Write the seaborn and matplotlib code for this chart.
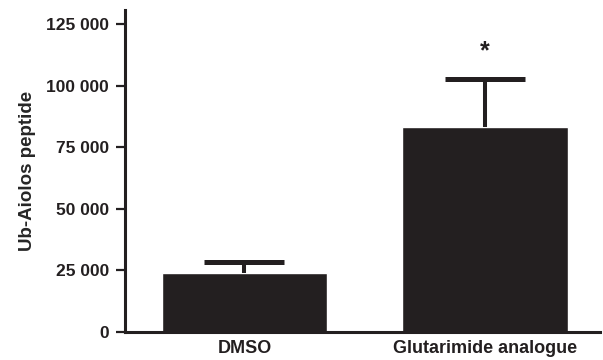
import numpy as np
import pandas as pd
import matplotlib
matplotlib.use("Agg")
import matplotlib.pyplot as plt
import seaborn as sns
from matplotlib.ticker import FuncFormatter

sns.set_style('ticks')
plt.rcParams['font.family'] = ['Liberation Sans', 'DejaVu Sans']
plt.rcParams['font.weight'] = 'bold'

groups = ["DMSO", "Glutarimide analogue"]
means = [23800, 83100]
errors = [4400, 19500]
y_ticks = [0, 25000, 50000, 75000, 100000, 125000]

bar_color = "#231f20"

df = pd.DataFrame({"group": groups, "value": means})

fig = plt.figure(figsize=(6.03, 3.6), dpi=100)
ax = fig.add_axes([0.207, 0.078, 0.788, 0.894])

sns.barplot(data=df, x="group", y="value", color=bar_color, width=0.686,
            saturation=1, errorbar=None, ax=ax)

# upward-only error bars, hide the lower cap
_, caps, _ = ax.errorbar(range(len(groups)), means, yerr=[[0] * len(groups), errors],
                         fmt="none", ecolor=bar_color, elinewidth=2.9, capsize=29,
                         capthick=3.6, zorder=3)
caps[0].set_visible(False)

ax.text(1, means[1] + errors[1] + 11500, "*", ha="center", va="center",
        fontsize=18, fontweight="bold", color=bar_color)

ax.set_xlim(-0.497, 1.478)
ax.set_ylim(0, 130700)
ax.set_yticks(y_ticks)
ax.yaxis.set_major_formatter(FuncFormatter(lambda v, p: f"{int(v):,}".replace(",", " ")))

ax.set_xlabel("")
ax.set_ylabel("Ub-Aiolos peptide", fontsize=13.5, fontweight="bold", labelpad=7)

sns.despine(ax=ax)
for side in ["left", "bottom"]:
    ax.spines[side].set_linewidth(2.2)
    ax.spines[side].set_color(bar_color)
ax.tick_params(axis="y", length=6.5, width=1.6, color=bar_color, labelsize=12.5, pad=5)
ax.tick_params(axis="x", length=0, labelsize=13, pad=6)
for lbl in ax.get_xticklabels() + ax.get_yticklabels():
    lbl.set_fontweight("bold")
    lbl.set_color(bar_color)

fig.savefig("out.png", dpi=100)
